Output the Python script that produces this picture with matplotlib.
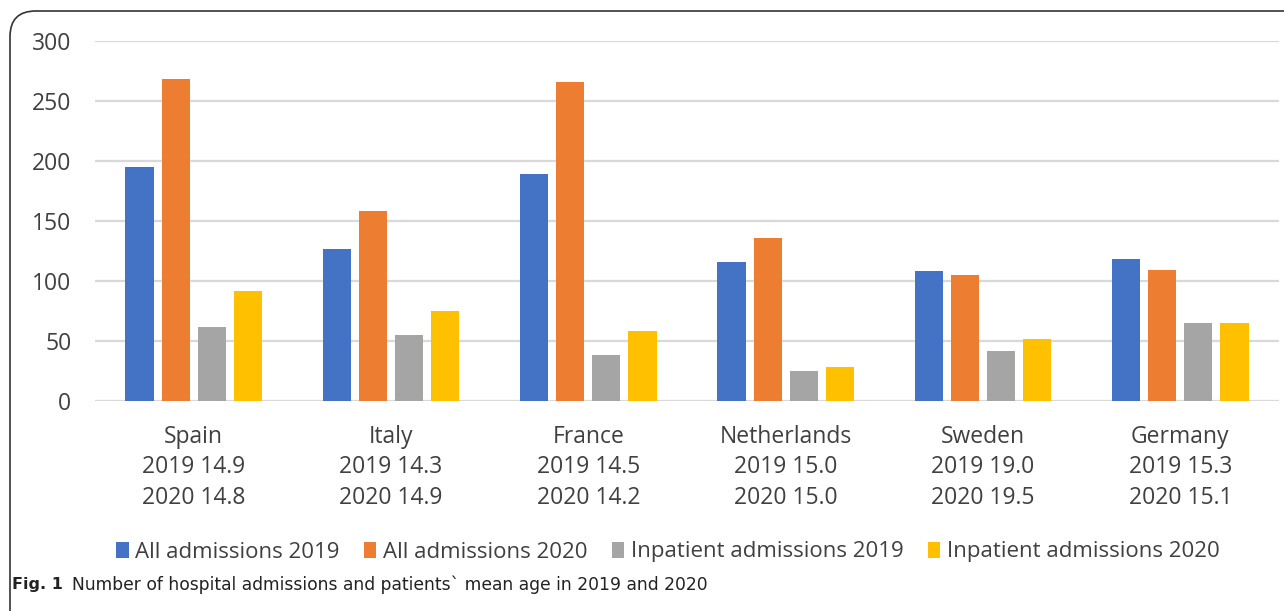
import matplotlib
matplotlib.use("Agg")
import matplotlib.pyplot as plt
import numpy as np
from matplotlib.patches import FancyBboxPatch, Patch

countries = ["Spain", "Italy", "France", "Netherlands", "Sweden", "Germany"]
age_2019 = ["14.9", "14.3", "14.5", "15.0", "19.0", "15.3"]
age_2020 = ["14.8", "14.9", "14.2", "15.0", "19.5", "15.1"]
all_2019 = [195, 127, 189, 116, 108, 118]
all_2020 = [268, 158, 266, 136, 105, 109]
inp_2019 = [62, 55, 38, 25, 42, 65]
inp_2020 = [92, 75, 58, 28, 52, 65]
series_names = ["All admissions 2019", "All admissions 2020",
                "Inpatient admissions 2019", "Inpatient admissions 2020"]
colors = ["#4472C4", "#ED7D31", "#A5A5A5", "#FFC000"]
yticks = [0, 50, 100, 150, 200, 250, 300]

plt.rcParams['font.family'] = ['Open Sans', 'DejaVu Sans']
fig = plt.figure(figsize=(12.84, 6.11), dpi=100)
W, H = 1284, 611
ax = fig.add_axes([95 / W, 1 - 401 / H, (1279 - 95) / W, (401 - 41) / H])

x = np.arange(len(countries))
width = 0.142
step = 0.183
data = [all_2019, all_2020, inp_2019, inp_2020]
for i, (vals, c) in enumerate(zip(data, colors)):
    ax.bar(x + (i - 1.5) * step, vals, width, color=c, zorder=3)

ax.set_xlim(-0.5, len(countries) - 0.5)
ax.set_ylim(0, 300)
ax.set_yticks(yticks)
ax.set_yticklabels([str(t) for t in yticks])
ax.grid(axis='y', color='#d9d9d9', lw=1.6, zorder=0)
for s in ax.spines.values():
    s.set_visible(False)
ax.tick_params(axis='both', length=0, labelcolor='#404040', labelsize=16.5)
ax.tick_params(axis='y', pad=17)
ax.set_xticks(x)
ax.set_xticklabels([f"{c}\n2019 {a}\n2020 {b}" for c, a, b in zip(countries, age_2019, age_2020)],
                   linespacing=1.36)
ax.tick_params(axis='x', pad=17)

handles = [Patch(facecolor=c, label=n) for c, n in zip(colors, series_names)]
fig.legend(handles=handles, loc='center', bbox_to_anchor=(668 / W, 1 - 552 / H), ncol=4,
           frameon=False, handlelength=0.55, handleheight=0.75, handletextpad=0.3,
           columnspacing=1.1, fontsize=16, labelcolor='#404040')

# border
border = FancyBboxPatch((10 / W, -0.1), 1.1, 1.1 - 11 / H,
                        boxstyle="round,pad=0,rounding_size=0.02",
                        transform=fig.transFigure, fill=False, edgecolor='#333333',
                        lw=1.2, mutation_aspect=W / H)
fig.patches.append(border)

fig.text(12 / W, 1 - 585 / H, "Fig. 1", fontsize=11.5, fontweight='bold',
         family=['Liberation Sans Narrow', 'DejaVu Sans'], va='center', color='#222222')
fig.text(72 / W, 1 - 585 / H,
         "Number of hospital admissions and patients` mean age in 2019 and 2020",
         fontsize=12.3, family=['Liberation Sans Narrow', 'DejaVu Sans'], va='center',
         color='#222222')

fig.savefig("out.png", dpi=100)
